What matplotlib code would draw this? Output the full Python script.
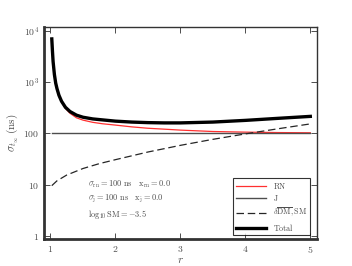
import numpy as np
import matplotlib
matplotlib.use('Agg')
import matplotlib.pyplot as plt

plt.rcParams['mathtext.fontset'] = 'cm'
plt.rcParams['font.family'] = 'serif'
plt.rcParams['font.serif'] = ['DejaVu Serif']

# values
r = [1.02, 1.03, 1.04, 1.06, 1.08, 1.10, 1.13, 1.17, 1.23, 1.30, 1.40, 1.50,
     1.65, 1.80, 2.00, 2.25, 2.50, 2.75, 3.00, 3.50, 4.00, 4.50, 5.00]
rn = [6900, 4000, 2500, 1400, 950, 735, 545, 410, 305, 245, 200, 180,
      163, 153, 144, 133, 125, 120, 115, 108, 105, 103, 102]
total = [6900, 4000, 2500, 1400, 950, 740, 550, 420, 320, 265, 225, 205,
         190, 182, 172, 165, 161, 159, 159, 165, 178, 195, 213]
r_dm = [1.02, 1.10, 1.25, 1.50, 1.75, 2.00, 2.50, 3.00, 3.50, 4.00, 4.50, 5.00]
dm = [9.5, 11.8, 15.3, 20.5, 25.5, 30.5, 43, 58, 76, 97, 122, 152]
r_j = [1.02, 5.0]
jit = [100, 100]

yticks = [1, 10, 100, 1e3, 1e4]
ylabels = ['$1$', '$10$', '$100$', '$10^3$', '$10^4$']
xticks = [1, 2, 3, 4, 5]

fig = plt.figure(figsize=(3.52, 2.66), dpi=100)
ax = fig.add_axes([0.125, 0.1, 0.775, 0.8])

ax.plot(r, rn, color='#ff3030', lw=0.9, label='$\\mathrm{RN}$')
ax.plot(r_j, jit, color='0.3', lw=1.0, label='$\\mathrm{J}$')
ax.plot(r_dm, dm, color='0.15', lw=0.9, dashes=(6, 3),
        label='$\\delta\\overline{\\mathrm{DM}}, \\mathrm{SM}$')
ax.plot(r, total, color='k', lw=2.4, label='$\\mathrm{Total}$')

ax.set_yscale('log')
ax.set_xlim(0.9, 5.1)
ax.set_ylim(0.85, 1.2e4)
ax.set_yticks(yticks)
ax.set_yticklabels(ylabels)
ax.yaxis.set_minor_locator(matplotlib.ticker.NullLocator())
ax.set_xticks(xticks)
ax.set_xticklabels(['$%d$' % t for t in xticks])
ax.tick_params(direction='in', top=True, right=True, length=4, width=0.7,
               labelsize=7, labelcolor='0.3', color='0.3')

for s in ['left', 'bottom']:
    ax.spines[s].set_linewidth(2.0)
    ax.spines[s].set_color('0.2')
for s in ['top', 'right']:
    ax.spines[s].set_linewidth(1.0)
    ax.spines[s].set_color('0.2')

ax.set_xlabel('$r$', fontsize=8, color='0.3', labelpad=0)
ax.set_ylabel('$\\sigma_{t_\\infty}\\;(\\mathrm{ns})$', fontsize=8, color='0.3', labelpad=2)

info = ('$\\sigma_{\\rm rn} = 100\\ \\mathrm{ns}\\quad \\mathrm{x}_{\\rm rn} = 0.0$\n'
        '$\\sigma_{\\rm j} = 100\\ \\mathrm{ns}\\quad \\mathrm{x}_{\\rm j} = 0.0$\n'
        '$\\log_{10}\\mathrm{SM} = -3.5$')
ax.text(0.16, 0.285, info, transform=ax.transAxes, fontsize=6, color='0.3',
        va='top', ha='left', linespacing=1.35)

leg = ax.legend(loc='lower right', fontsize=5.8, frameon=True, fancybox=False,
                handlelength=3.8, borderpad=0.35, labelspacing=0.3,
                handletextpad=0.8, bbox_to_anchor=(0.99, 0.0))
leg.get_frame().set_edgecolor('k')
leg.get_frame().set_linewidth(0.8)
for t in leg.get_texts():
    t.set_color('0.3')

fig.savefig('out.png', dpi=100)
